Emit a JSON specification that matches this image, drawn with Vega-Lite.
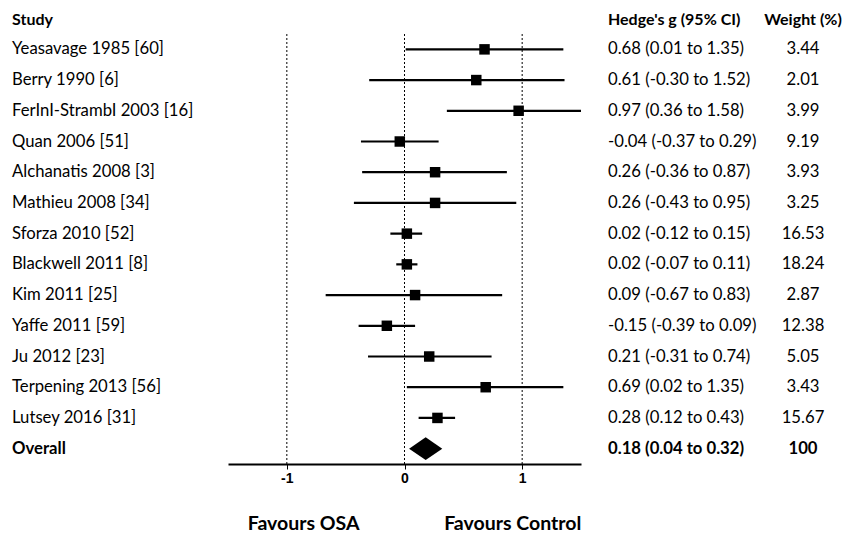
{
  "$schema": "https://vega.github.io/schema/vega-lite/v6.json",
  "padding": {"left": 12, "top": 12, "right": 0, "bottom": 0},
  "background": "white",
  "bounds": "flush",
  "spacing": 27,
  "config": {
    "view": {"stroke": null},
    "font": "Lato",
    "title": {"font": "Lato", "fontSize": 16, "fontWeight": "bold", "color": "#000000", "offset": 6}
  },
  "datasets": {
    "studies": [
      {"study": "Yeasavage 1985 [60]", "g": 0.68, "lo": 0.01, "hi": 1.35, "ci": "0.68 (0.01 to 1.35)", "weight": "3.44"},
      {"study": "Berry 1990 [6]", "g": 0.61, "lo": -0.30, "hi": 1.36, "ci": "0.61 (-0.30 to 1.52)", "weight": "2.01"},
      {"study": "FerInI-StrambI 2003 [16]", "g": 0.97, "lo": 0.36, "hi": 1.58, "ci": "0.97 (0.36 to 1.58)", "weight": "3.99"},
      {"study": "Quan 2006 [51]", "g": -0.04, "lo": -0.37, "hi": 0.29, "ci": "-0.04 (-0.37 to 0.29)", "weight": "9.19"},
      {"study": "Alchanatis 2008 [3]", "g": 0.26, "lo": -0.36, "hi": 0.87, "ci": "0.26 (-0.36 to 0.87)", "weight": "3.93"},
      {"study": "Mathieu 2008 [34]", "g": 0.26, "lo": -0.43, "hi": 0.95, "ci": "0.26 (-0.43 to 0.95)", "weight": "3.25"},
      {"study": "Sforza 2010 [52]", "g": 0.02, "lo": -0.12, "hi": 0.15, "ci": "0.02 (-0.12 to 0.15)", "weight": "16.53"},
      {"study": "Blackwell 2011 [8]", "g": 0.02, "lo": -0.07, "hi": 0.11, "ci": "0.02 (-0.07 to 0.11)", "weight": "18.24"},
      {"study": "Kim 2011 [25]", "g": 0.09, "lo": -0.67, "hi": 0.83, "ci": "0.09 (-0.67 to 0.83)", "weight": "2.87"},
      {"study": "Yaffe 2011 [59]", "g": -0.15, "lo": -0.39, "hi": 0.09, "ci": "-0.15 (-0.39 to 0.09)", "weight": "12.38"},
      {"study": "Ju 2012 [23]", "g": 0.21, "lo": -0.31, "hi": 0.74, "ci": "0.21 (-0.31 to 0.74)", "weight": "5.05"},
      {"study": "Terpening 2013 [56]", "g": 0.69, "lo": 0.02, "hi": 1.35, "ci": "0.69 (0.02 to 1.35)", "weight": "3.43"},
      {"study": "Lutsey 2016 [31]", "g": 0.28, "lo": 0.12, "hi": 0.43, "ci": "0.28 (0.12 to 0.43)", "weight": "15.67"},
      {"study": "Overall", "g": 0.18, "lo": 0.04, "hi": 0.32, "ci": "0.18 (0.04 to 0.32)", "weight": "100"}
    ],
    "refs": [{"v": -1}, {"v": 0}, {"v": 1}]
  },
  "resolve": {"scale": {"y": "shared"}},
  "hconcat": [
    {
      "width": 189,
      "height": 430,
      "title": {"text": "Study", "anchor": "start"},
      "data": {"name": "studies"},
      "transform": [{"fold": ["study"], "as": ["col", "val"]}],
      "encoding": {
        "y": {"field": "study", "type": "nominal", "sort": null, "axis": null, "scale": {"type": "point", "padding": 0.5}},
        "x": {"field": "col", "type": "nominal", "axis": null, "bandPosition": 0, "scale": {"type": "band", "paddingInner": 0, "paddingOuter": 0}},
        "text": {"field": "val", "type": "nominal"}
      },
      "layer": [
        {"transform": [{"filter": "datum.study != 'Overall'"}], "mark": {"type": "text", "align": "left", "baseline": "middle", "fontSize": 16.7, "color": "#000000"}},
        {"transform": [{"filter": "datum.study == 'Overall'"}], "mark": {"type": "text", "align": "left", "baseline": "middle", "fontSize": 16.7, "fontWeight": "bold", "color": "#000000"}}
      ]
    },
    {
      "width": 353,
      "height": 430,
      "layer": [
        {
          "data": {"name": "refs"},
          "mark": {"type": "rule", "strokeDash": [2, 2], "strokeWidth": 1, "color": "#000000"},
          "encoding": {
            "x": {"field": "v", "type": "quantitative", "scale": {"domain": [-1.5, 1.5], "clamp": true, "nice": false, "zero": false},
              "axis": {
                "values": [-1, 0, 1],
                "labelExpr": "'' + datum.value",
                "grid": false,
                "domainColor": "#000000",
                "domainWidth": 2,
                "tickColor": "#000000",
                "tickSize": 5,
                "labelFont": "Liberation Sans",
                "labelFontWeight": "bold",
                "labelFontSize": 14,
                "labelColor": "#000000",
                "labelPadding": 2,
                "title": "\u200b\u00a0\u00a0\u00a0\u00a0Favours OSA\u00a0\u00a0\u00a0\u00a0\u00a0\u00a0\u00a0\u00a0\u00a0\u00a0\u00a0\u00a0\u00a0\u00a0\u00a0\u00a0\u00a0\u00a0Favours Control",
                "titleFont": "Lato",
                "titleFontSize": 19.5,
                "titleFontWeight": "bold",
                "titleColor": "#000000",
                "titlePadding": 29
              }
            }
          }
        },
        {
          "data": {"name": "studies"},
          "transform": [{"filter": "datum.study != 'Overall'"}],
          "mark": {"type": "rule", "strokeWidth": 2.2, "color": "#000000"},
          "encoding": {
            "y": {"field": "study", "type": "nominal", "sort": null, "axis": null, "scale": {"type": "point", "padding": 0.5}},
            "x": {"field": "lo", "type": "quantitative"},
            "x2": {"field": "hi"}
          }
        },
        {
          "data": {"name": "studies"},
          "transform": [{"filter": "datum.study != 'Overall'"}],
          "mark": {"type": "point", "shape": "square", "filled": true, "opacity": 1, "size": 110, "color": "#000000"},
          "encoding": {
            "y": {"field": "study", "type": "nominal", "sort": null, "axis": null},
            "x": {"field": "g", "type": "quantitative"}
          }
        },
        {
          "data": {"name": "studies"},
          "transform": [{"filter": "datum.study == 'Overall'"}],
          "mark": {"type": "point", "shape": "M-1,0L0,-0.68L1,0L0,0.68Z", "filled": true, "opacity": 1, "size": 1100, "color": "#000000"},
          "encoding": {
            "y": {"field": "study", "type": "nominal", "sort": null, "axis": null},
            "x": {"field": "g", "type": "quantitative"}
          }
        }
      ]
    },
    {
      "width": 112,
      "height": 430,
      "title": {"text": "Hedge's g (95% CI)", "anchor": "start"},
      "data": {"name": "studies"},
      "transform": [{"fold": ["ci"], "as": ["col", "val"]}],
      "encoding": {
        "y": {"field": "study", "type": "nominal", "sort": null, "axis": null},
        "x": {"field": "col", "type": "nominal", "axis": null, "bandPosition": 0, "scale": {"type": "band", "paddingInner": 0, "paddingOuter": 0}},
        "text": {"field": "val", "type": "nominal"}
      },
      "layer": [
        {"transform": [{"filter": "datum.study != 'Overall'"}], "mark": {"type": "text", "align": "left", "baseline": "middle", "fontSize": 16.7, "color": "#000000"}},
        {"transform": [{"filter": "datum.study == 'Overall'"}], "mark": {"type": "text", "align": "left", "baseline": "middle", "fontSize": 16.7, "fontWeight": "bold", "color": "#000000"}}
      ]
    },
    {
      "width": 112,
      "height": 430,
      "title": {"text": "Weight (%)", "anchor": "middle"},
      "data": {"name": "studies"},
      "encoding": {
        "y": {"field": "study", "type": "nominal", "sort": null, "axis": null},
        "text": {"field": "weight", "type": "nominal"}
      },
      "layer": [
        {"transform": [{"filter": "datum.study != 'Overall'"}], "mark": {"type": "text", "align": "center", "baseline": "middle", "fontSize": 16.7, "color": "#000000"}},
        {"transform": [{"filter": "datum.study == 'Overall'"}], "mark": {"type": "text", "align": "center", "baseline": "middle", "fontSize": 16.7, "fontWeight": "bold", "color": "#000000"}}
      ]
    }
  ]
}
